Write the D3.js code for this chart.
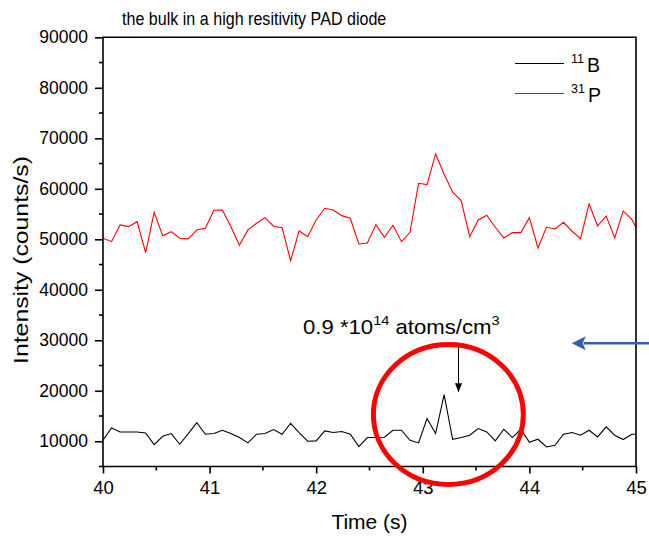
<!DOCTYPE html>
<html>
<head>
<meta charset="utf-8">
<script src="https://cdn.jsdelivr.net/npm/d3@7"></script>
<style>
  html, body { margin: 0; padding: 0; background: #fff; }
  svg text { font-family: Arial, "Liberation Sans", sans-serif; fill: #000; }
</style>
</head>
<body>
<div id="chart"></div>
<script>
const time = [40.00, 40.08, 40.16, 40.24, 40.32, 40.40, 40.48, 40.56, 40.64, 40.72,
  40.80, 40.88, 40.96, 41.04, 41.12, 41.20, 41.28, 41.36, 41.44, 41.52,
  41.60, 41.68, 41.76, 41.84, 41.92, 42.00, 42.08, 42.16, 42.24, 42.32,
  42.40, 42.48, 42.56, 42.64, 42.72, 42.80, 42.88, 42.96, 43.04, 43.12,
  43.20, 43.28, 43.36, 43.44, 43.52, 43.60, 43.68, 43.76, 43.84, 43.92,
  44.00, 44.08, 44.16, 44.24, 44.32, 44.40, 44.48, 44.56, 44.64, 44.72,
  44.80, 44.88, 44.96, 45.04];

const boron = [10200, 12630, 11840, 11840, 11840, 11640, 9340, 10990, 11520, 9410,
  11500, 13700, 11390, 11520, 12180, 11520, 10730, 9670, 11390, 11520,
  12310, 11390, 13560, 11720, 10000, 10070, 12050, 11720, 11920, 11390,
  8950, 10730, 10730, 10800, 12180, 12180, 10200, 9670, 14490, 11520,
  19250, 10400, 10730, 11190, 12510, 11840, 10070, 12380, 10730, 12380,
  9800, 10400, 8870, 9210, 11390, 11720, 11190, 12180, 10860, 12840,
  11190, 10330, 11390, 11390];

const phosphorus = [50200, 49530, 52840, 52500, 53490, 47350, 55350, 50720, 51510, 50200,
  50070, 51850, 52180, 55750, 55800, 52500, 48820, 51850, 53170, 54280,
  52580, 52300, 45770, 51650, 50520, 53830, 56140, 55800, 54680, 54160,
  49070, 49270, 52900, 50400, 52770, 49530, 51390, 61090, 60820, 66900,
  62870, 59310, 57650, 50520, 53830, 54760, 52380, 50260, 51320, 51320,
  54280, 48280, 52380, 52040, 53370, 51590, 50120, 57000, 52640, 54620,
  50260, 55610, 53960, 50800];

const xTicks = [40, 41, 42, 43, 44, 45];
const xMinor = [40.5, 41.5, 42.5, 43.5, 44.5];
const yTicks = [10000, 20000, 30000, 40000, 50000, 60000, 70000, 80000, 90000];
const yMinor = [5000, 15000, 25000, 35000, 45000, 55000, 65000, 75000, 85000];

const seriesNames = [["11", "B"], ["31", "P"]];
const seriesColors = ["#000000", "#ff0000"];

const W = 649, H = 539;
const mL = 103, mR = 636, mT = 37.3, mB = 466.5;

const svg = d3.select("#chart").append("svg")
  .attr("width", W).attr("height", H);

const x = d3.scaleLinear().domain([40, 45]).range([mL, mR]);
const y = d3.scaleLinear().domain([5000, 90000]).range([mB, mT]);

svg.append("defs").append("clipPath").attr("id", "plot")
  .append("rect").attr("x", mL).attr("y", mT)
  .attr("width", mR - mL).attr("height", mB - mT);

// lines
const line = d3.line().x((d, i) => x(time[i])).y(d => y(d));
const plot = svg.append("g").attr("clip-path", "url(#plot)");
[boron, phosphorus].forEach((s, k) => {
  plot.append("path").datum(s)
    .attr("d", line)
    .attr("fill", "none")
    .attr("stroke", seriesColors[k])
    .attr("stroke-width", 1.1);
});

// frame
svg.append("path")
  .attr("d", `M${mL},${mT}H${mR}V${mB}H${mL}Z`)
  .attr("fill", "none").attr("stroke", "#000").attr("stroke-width", 1.6);

// y axis
const yAxis = svg.append("g").attr("transform", `translate(${mL},0)`)
  .call(d3.axisLeft(y).tickValues(yTicks).tickSize(8).tickPadding(7).tickFormat(d3.format("d")));
yAxis.append("g").selectAll("line").data(yMinor).join("line")
  .attr("x1", 0).attr("x2", -4).attr("y1", d => y(d)).attr("y2", d => y(d))
  .attr("stroke", "#000").attr("stroke-width", 1.6);

// x axis
const xAxis = svg.append("g").attr("transform", `translate(0,${mB})`)
  .call(d3.axisBottom(x).tickValues(xTicks).tickSize(7).tickPadding(7).tickFormat(d3.format("d")));
xAxis.append("g").selectAll("line").data(xMinor).join("line")
  .attr("x1", d => x(d)).attr("x2", d => x(d)).attr("y1", 0).attr("y2", 4)
  .attr("stroke", "#000").attr("stroke-width", 1.6);

[yAxis, xAxis].forEach(ax => {
  ax.select(".domain").remove();
  ax.selectAll(".tick line").attr("stroke-width", 1.6);
  ax.selectAll("text").attr("font-family", "Arial, 'Liberation Sans', sans-serif").attr("fill", "#000");
});
yAxis.selectAll(".tick text").attr("font-size", 17.5);
xAxis.selectAll(".tick text").attr("font-size", 18.5);

// title and axis labels
svg.append("text").attr("transform", "translate(122,25) scale(0.92,1)")
  .attr("font-size", 17.5).text("the bulk in a high resitivity PAD diode");

svg.append("text").attr("x", (mL + mR) / 2).attr("y", 529)
  .attr("text-anchor", "middle").attr("font-size", 21).text("Time (s)");

svg.append("text").attr("transform", "translate(28,260) rotate(-90) scale(1.18,1)")
  .attr("text-anchor", "middle").attr("font-size", 21).text("Intensity (counts/s)");

// legend
const legend = svg.append("g");
seriesNames.forEach((n, k) => {
  const ly = 63.5 + k * 30;
  legend.append("line").attr("x1", 515).attr("x2", 564).attr("y1", ly).attr("y2", ly)
    .attr("stroke", seriesColors[k]).attr("stroke-width", 1.1);
  const t = legend.append("text").attr("x", 571).attr("y", ly + 8).attr("font-size", 19.5);
  t.append("tspan").attr("font-size", 12.5).attr("dy", -9).text(n[0]);
  t.append("tspan").attr("dy", 9).attr("dx", 3).text(n[1]);
});

// annotation
const ann = svg.append("text").attr("transform", "translate(303,334) scale(1.08,1)")
  .attr("font-size", 20.5);
ann.append("tspan").text("0.9 *10");
ann.append("tspan").attr("font-size", 13.5).attr("dy", -9).text("14");
ann.append("tspan").attr("dy", 9).text(" atoms/cm");
ann.append("tspan").attr("font-size", 13.5).attr("dy", -9).text("3");

const ax0 = x(43.335);
svg.append("line").attr("x1", ax0).attr("x2", ax0).attr("y1", 347).attr("y2", y(19800))
  .attr("stroke", "#000").attr("stroke-width", 1);
svg.append("path")
  .attr("d", `M${ax0},${y(19900) + 1}l-3.5,-9h7z`)
  .attr("fill", "#000");

// red circle around the boron peak
svg.append("ellipse")
  .attr("cx", x(43.24)).attr("cy", y(15300))
  .attr("rx", 75).attr("ry", 70)
  .attr("fill", "none").attr("stroke", "#ff0000").attr("stroke-width", 5);

// blue arrow pointing at the plot
const bx = x(44.397), by = y(29400);
svg.append("line").attr("x1", bx + 12).attr("x2", 660).attr("y1", by).attr("y2", by)
  .attr("stroke", "#3660a8").attr("stroke-width", 2.5);
svg.append("path")
  .attr("d", `M${bx},${by}l14,-7l-3,7l3,7z`)
  .attr("fill", "#3660a8");
</script>
</body>
</html>
